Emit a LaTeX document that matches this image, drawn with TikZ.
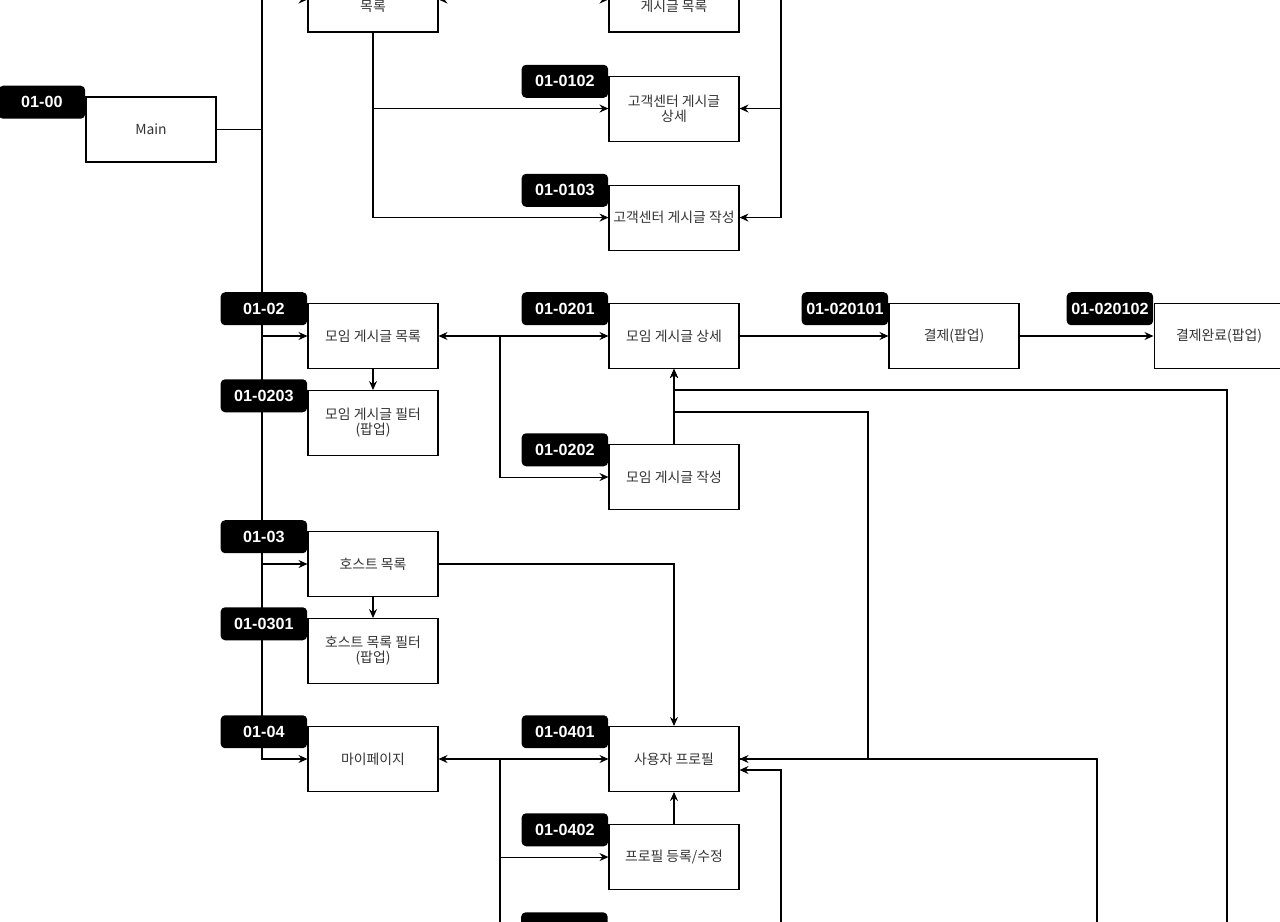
\documentclass[tikz,border=0pt]{standalone}
\usepackage{fontspec}
\setmainfont{Liberation Sans}
\newfontfamily\kr{Noto Sans CJK KR}
\usepackage{tikz}
\usetikzlibrary{positioning,arrows.meta}
\definecolor{boxtext}{RGB}{51,51,51}

\begin{document}
\begin{tikzpicture}[x=0.02cm, y=-0.02cm,
        >={Stealth[length=1.8mm, width=1.6mm, inset=0.6mm]},
        Link/.style ={draw, line width=0.6pt},
        Page/.style ={draw=black, line width=0.6pt, rectangle, align=center, inner sep=1pt,
                      minimum height=1.3cm, minimum width=2.6cm, text=boxtext,
                      font=\kr\fontsize{7.9}{8.6}\selectfont},
        Tag/.style  ={fill=black, rounded corners=2.5pt, inner sep=0pt, text=white,
                      minimum height=0.66cm, minimum width=1.73cm,
                      font=\bfseries\fontsize{9.2}{10}\selectfont},
    ]
\useasboundingbox (0,0) rectangle (1280,921);

% Nodes

\node (main) [Page] at (151,129.5) {Main};
\node (cs) [Page] at (373,-0.5) {\phantom{목}\\목록};
\node (cslist) [Page, right=3.4cm of cs] {\phantom{목}\\게시글 목록};
\node (csview) [Page, below=0.86cm of cslist] {고객센터 게시글\\상세};
\node (cswrite) [Page, below=0.86cm of csview] {고객센터 게시글 작성};

\node (glist) [Page] at (373,336) {모임 게시글 목록};
\node (gfilter) [Page, below=0.42cm of glist] {모임 게시글 필터\\(팝업)};
\node (gview) [Page, right=3.4cm of glist] {모임 게시글 상세};
\node (gwrite) [Page, below=1.5cm of gview] {모임 게시글 작성};
\node (pay) [Page, right=2.98cm of gview] {결제(팝업)};
\node (paydone) [Page, right=2.68cm of pay] {결제완료(팝업)};

\node (hlist) [Page] at (373,564) {호스트 목록};
\node (hfilter) [Page, below=0.42cm of hlist] {호스트 목록 필터\\(팝업)};

\node (mypage) [Page] at (373,759) {마이페이지};
\node (profile) [Page, right=3.4cm of mypage] {사용자 프로필};
\node (profedit) [Page, below=0.64cm of profile] {프로필 등록/수정};

% Points

\coordinate (trunk) at (262,129.5);
\coordinate (csright) at (781,-0.5);
\coordinate (gsplit) at (500,336);
\coordinate (msplit) at (500,759);
\coordinate (mdown) at (500,940);
\coordinate (pbend) at (868,412);
\coordinate (rbend) at (1227,390);
\coordinate (rdown) at (1227,940);
\coordinate (qdown) at (1097,940);
\coordinate (sdown) at (781,940);

% Arrows

\draw[Link] (main.east) -- (trunk);
\draw[Link, ->] (trunk) |- (cs.west);
\draw[Link, ->] (trunk) |- (glist.west);
\draw[Link, ->] (trunk) |- (hlist.west);
\draw[Link, ->] (trunk) |- (mypage.west);

\draw[Link, <->] (cs.east) -- (cslist.west);
\draw[Link, ->] (cs.south) |- (csview.west);
\draw[Link, ->] (cs.south) |- (cswrite.west);
\draw[Link] (cslist.east) -- (csright);
\draw[Link, ->] (csright) |- (csview.east);
\draw[Link, ->] (csright) |- (cswrite.east);

\draw[Link, <->] (glist.east) -- (gview.west);
\draw[Link, ->] (gsplit) |- (gwrite.west);
\draw[Link, ->] (glist.south) -- (gfilter.north);
\draw[Link, ->] (gwrite.north) -- (gview.south);
\draw[Link, ->] (gview.east) -- (pay.west);
\draw[Link, ->] (pay.east) -- (paydone.west);

\draw[Link, ->] (hlist.south) -- (hfilter.north);
\draw[Link, ->] (hlist.east) -| (profile.north);

\draw[Link, <->] (mypage.east) -- (profile.west);
\draw[Link, ->] (msplit) |- (profedit.west);
\draw[Link] (msplit) -- (mdown);
\draw[Link, ->] (profedit.north) -- (profile.south);

\draw[Link, ->] (profile.east) -| (pbend) -| (gview.south);
\draw[Link, ->] (rdown) -- (rbend) -| (gview.south);
\draw[Link, ->] (qdown) |- (profile.east);
\draw[Link, ->] (sdown) |- ([yshift=-0.22cm]profile.east);

% Tags (on top of the lines)

\node (t00) [Tag, left=0pt of main.north west, yshift=-0.115cm] {01-00};
\node (t0102) [Tag, left=0pt of csview.north west, yshift=-0.115cm] {01-0102};
\node (t0103) [Tag, left=0pt of cswrite.north west, yshift=-0.115cm] {01-0103};
\node (t02) [Tag, left=0pt of glist.north west, yshift=-0.115cm] {01-02};
\node (t0203) [Tag, left=0pt of gfilter.north west, yshift=-0.115cm] {01-0203};
\node (t0201) [Tag, left=0pt of gview.north west, yshift=-0.115cm] {01-0201};
\node (t0202) [Tag, left=0pt of gwrite.north west, yshift=-0.115cm] {01-0202};
\node (t020101) [Tag, left=0pt of pay.north west, yshift=-0.115cm] {01-020101};
\node (t020102) [Tag, left=0pt of paydone.north west, yshift=-0.115cm] {01-020102};
\node (t03) [Tag, left=0pt of hlist.north west, yshift=-0.115cm] {01-03};
\node (t0301) [Tag, left=0pt of hfilter.north west, yshift=-0.115cm] {01-0301};
\node (t04) [Tag, left=0pt of mypage.north west, yshift=-0.115cm] {01-04};
\node (t0401) [Tag, left=0pt of profile.north west, yshift=-0.115cm] {01-0401};
\node (t0402) [Tag, left=0pt of profedit.north west, yshift=-0.115cm] {01-0402};
\node (tnext) [Tag, anchor=north east] at (608,912) {};

\end{tikzpicture}
\end{document}
